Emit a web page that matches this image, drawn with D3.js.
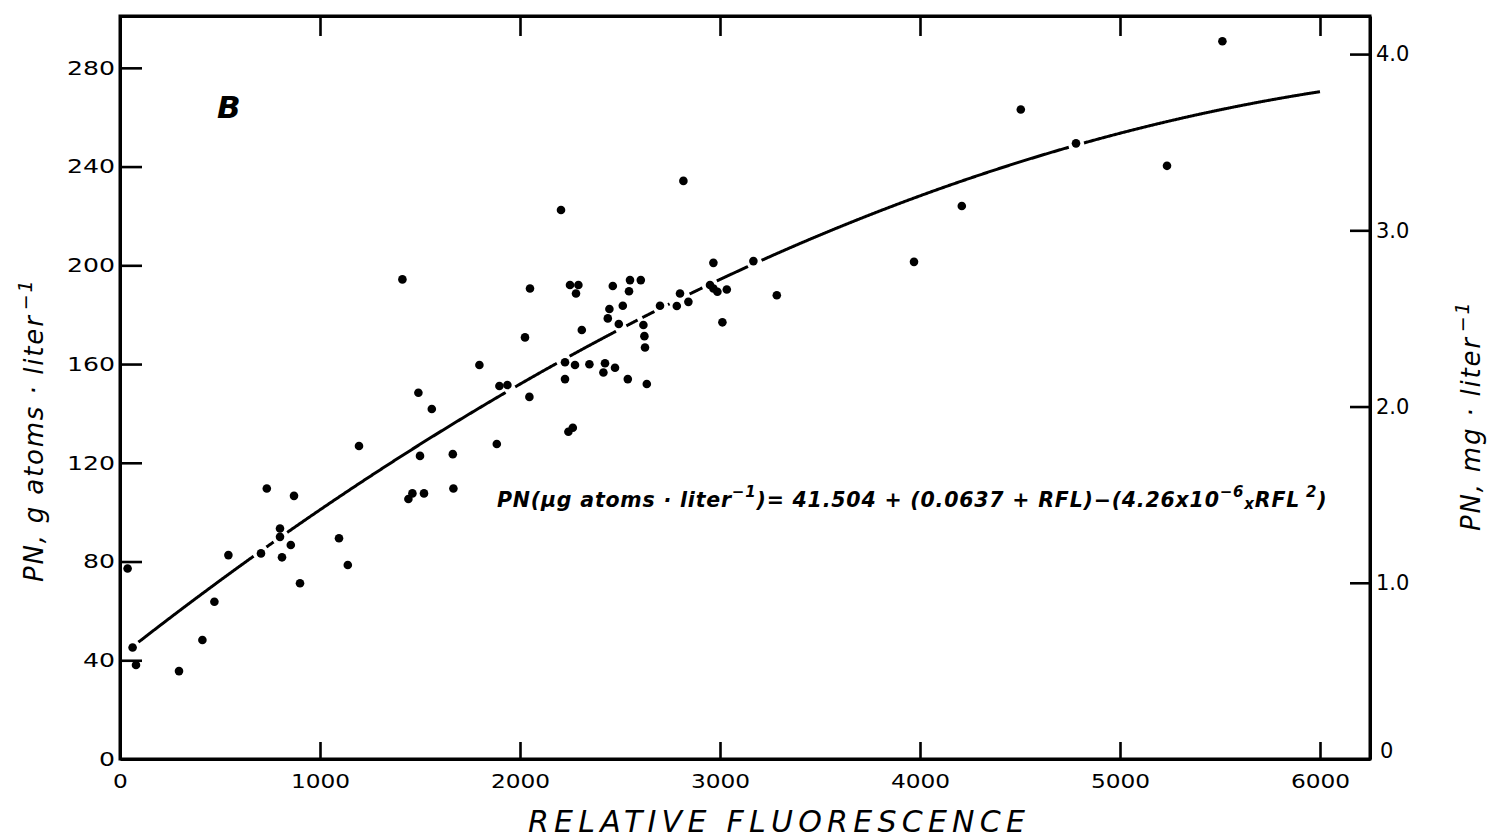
<!DOCTYPE html>
<html>
<head>
<meta charset="utf-8">
<script src="https://cdn.jsdelivr.net/npm/d3@7"></script>
<style>
  html, body { margin: 0; padding: 0; background: #fff; }
  svg { display: block; }
  text { font-family: "DejaVu Sans", sans-serif; fill: #000; }
</style>
</head>
<body>
<svg id="chart" width="1489" height="840"></svg>
<script>
// Relative fluorescence (RFL) of each sample
const rfl = [
  63, 80, 38, 295, 412, 472, 542, 705, 734, 800, 800, 810, 854, 870, 900,
  1095, 1139, 1195, 1412, 1442, 1462, 1492, 1500, 1520, 1559, 1664, 1667,
  1797, 1884, 1897, 1937, 2047, 2025, 2050, 2205, 2225, 2275, 2225, 2242,
  2264, 2250, 2292, 2280, 2309, 2347, 2425, 2417, 2475, 2539, 2634, 2464,
  2550, 2604, 2545, 2447, 2439, 2514, 2494, 2617, 2622, 2625, 2700, 2784,
  2800, 2842, 2817, 2967, 2950, 2967, 2987, 3034, 3012, 3167, 3284, 3970,
  4209, 4504, 4780, 5235, 5512
];
// Particulate nitrogen, µg atoms per liter, for the same samples
const pn = [
  45.2, 38.1, 77.2, 35.6, 48.2, 63.7, 82.6, 83.3, 109.6, 93.4, 90.0, 81.7, 86.7, 106.6, 71.2,
  89.4, 78.6, 126.8, 194.3, 105.3, 107.6, 148.4, 122.8, 107.6, 141.8, 123.5, 109.6,
  159.6, 127.6, 151.1, 151.5, 146.7, 170.8, 190.6, 222.4, 160.7, 159.6, 153.9, 132.6,
  134.2, 192.0, 192.0, 188.6, 173.8, 159.9, 160.3, 156.6, 158.5, 153.9, 151.9, 191.6,
  194.0, 194.0, 189.5, 182.3, 178.5, 183.6, 176.2, 175.8, 171.3, 166.7, 183.6, 183.5,
  188.6, 185.2, 234.2, 201.0, 192.0, 190.6, 189.3, 190.2, 176.9, 201.7, 187.9, 201.4,
  224.0, 263.1, 249.4, 240.3, 290.8
];
// Quadratic fit: PN = a + b*RFL + c*RFL^2
const fitCoeffs = [41.504, 0.0637, -4.26e-6];
const fitRange = [40, 6000];

// Axis ticks
const xTicks = [0, 1000, 2000, 3000, 4000, 5000, 6000];
const yTicks = [0, 40, 80, 120, 160, 200, 240, 280];
const mgTicks = [0, 1.0, 2.0, 3.0, 4.0];
const N_ATOMIC_MASS = 14.007; // µg atoms N -> µg N

const svg = d3.select("#chart");
const mLeft = 120, mRight = 1370, mTop = 16, mBottom = 759;

const x = d3.scaleLinear().domain([0, 6250]).range([mLeft, mRight]);
const y = d3.scaleLinear().domain([0, 301]).range([mBottom, mTop]);
const yMg = d3.scaleLinear()
  .domain(y.domain().map(v => v * N_ATOMIC_MASS / 1000))
  .range(y.range());

const axisStyle = g => {
  g.selectAll("path.domain").attr("stroke", "#000").attr("stroke-width", 3);
  g.selectAll(".tick line").attr("stroke", "#000").attr("stroke-width", 2.6);
  g.selectAll(".tick text").attr("font-size", 20).attr("fill", "#000");
};

// Bottom axis
const gx = svg.append("g").attr("transform", `translate(0,${mBottom})`)
  .call(d3.axisBottom(x).tickValues(xTicks).tickSizeInner(-17).tickSizeOuter(0).tickPadding(15).tickFormat(d3.format("d")))
  .call(axisStyle);
gx.selectAll(".tick text")
  .attr("textLength", d => String(d).length * 14.8)
  .attr("lengthAdjust", "spacingAndGlyphs");

// Top axis (ticks only)
svg.append("g").attr("transform", `translate(0,${mTop})`)
  .call(d3.axisTop(x).tickValues(xTicks.slice(1)).tickSizeInner(-20).tickSizeOuter(0).tickFormat(""))
  .call(axisStyle);

// Left axis
const gy = svg.append("g").attr("transform", `translate(${mLeft},0)`)
  .call(d3.axisLeft(y).tickValues(yTicks).tickSizeInner(-22).tickSizeOuter(0).tickPadding(5).tickFormat(d3.format("d")))
  .call(axisStyle);
gy.selectAll(".tick text")
  .attr("textLength", d => String(d).length * 16)
  .attr("lengthAdjust", "spacingAndGlyphs");
gy.selectAll(".tick").filter(d => d === 0).select("line").remove();

// Right axis, mg per liter
const gr = svg.append("g").attr("transform", `translate(${mRight},0)`)
  .call(d3.axisRight(yMg).tickValues(mgTicks).tickSizeInner(-20).tickSizeOuter(0).tickPadding(6)
    .tickFormat(d => d === 0 ? "0" : d3.format(".1f")(d)))
  .call(axisStyle);
gr.selectAll(".tick text").attr("font-size", 21);
gr.selectAll(".tick").filter(d => d === 0).select("line").remove();
gr.selectAll(".tick").filter(d => d === 0).select("text").attr("dy", "-0.05em").attr("dx", 4);

// Close the frame corners
svg.append("path")
  .attr("d", `M${mLeft},${mTop}H${mRight}V${mBottom}H${mLeft}Z`)
  .attr("fill", "none").attr("stroke", "#000").attr("stroke-width", 3);

// Data points
const pts = rfl.map((r, i) => ({ r, p: pn[i] }));
svg.append("g").selectAll("circle").data(pts).join("circle")
  .attr("cx", d => x(d.r)).attr("cy", d => y(d.p)).attr("r", 4.3)
  .attr("fill", "#000");

// Fitted curve, broken where it passes under a data point
const fit = r => fitCoeffs[0] + fitCoeffs[1] * r + fitCoeffs[2] * r * r;
const samples = d3.range(fitRange[0], fitRange[1] + 1, 4);
const clear = r => {
  const cx = x(r), cy = y(fit(r));
  return d3.min(pts, d => Math.hypot(x(d.r) - cx, y(d.p) - cy)) > 7.5;
};
svg.append("path")
  .datum(samples)
  .attr("fill", "none").attr("stroke", "#000").attr("stroke-width", 3)
  .attr("d", d3.line().defined(clear).x(r => x(r)).y(r => y(fit(r))));

// Panel letter
svg.append("text").attr("x", 217).attr("y", 118)
  .attr("font-size", 31).attr("font-style", "italic").attr("font-weight", "bold")
  .text("B");

// Fit equation
const eq = svg.append("text").attr("x", 497).attr("y", 507)
  .attr("font-size", 20.5).attr("font-style", "italic").attr("font-weight", "bold")
  .attr("letter-spacing", 0.8);
eq.append("tspan").text("PN(µg atoms · liter");
eq.append("tspan").attr("dy", -10).attr("font-size", 15).text("−1");
eq.append("tspan").attr("dy", 10).text(")= 41.504 + (0.0637 + RFL)−(4.26x10");
eq.append("tspan").attr("dy", -10).attr("font-size", 15).text("−6");
eq.append("tspan").attr("dy", 12).attr("font-size", 15).text("x");
eq.append("tspan").attr("dy", -2).text("RFL");
eq.append("tspan").attr("dy", -10).attr("font-size", 15).text(" 2");
eq.append("tspan").attr("dy", 10).text(")");

// X axis title
svg.append("text").attr("x", 528).attr("y", 832)
  .attr("font-size", 30).attr("font-style", "italic")
  .attr("textLength", 497).attr("lengthAdjust", "spacing")
  .text("RELATIVE FLUORESCENCE");

// Left axis title
const yl = svg.append("text").attr("transform", "translate(43,582) rotate(-90)")
  .attr("font-size", 26).attr("font-style", "italic").attr("letter-spacing", 1.8);
yl.append("tspan").text("PN,  g atoms · liter");
yl.append("tspan").attr("dy", -11).attr("dx", 4).attr("font-size", 19).text("−1");

// Right axis title
const yr = svg.append("text").attr("transform", "translate(1480,531) rotate(-90)")
  .attr("font-size", 26).attr("font-style", "italic").attr("letter-spacing", 1.8);
yr.append("tspan").text("PN, mg · liter");
yr.append("tspan").attr("dy", -11).attr("dx", 4).attr("font-size", 19).text("−1");
</script>
</body>
</html>
